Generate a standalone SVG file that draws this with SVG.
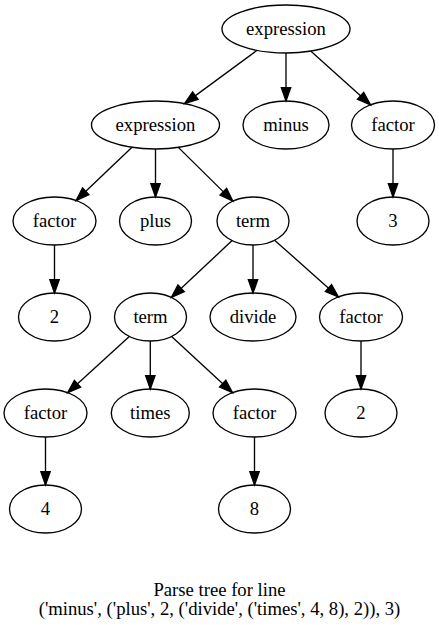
<svg xmlns="http://www.w3.org/2000/svg" width="439" height="629" viewBox="0 0 439 629">
<style>
.n ellipse{fill:none;stroke:#000;stroke-width:1.33}
.e path{fill:none;stroke:#000;stroke-width:1.33;marker-end:url(#arr)}
</style>
<defs>
<marker id="arr" markerUnits="userSpaceOnUse" markerWidth="16" markerHeight="12" refX="13.33" refY="4.67" orient="auto" overflow="visible">
<path d="M0,0 L13.33,4.67 L0,9.33 Z" fill="#000" stroke="#000" stroke-width="1.33"/>
</marker>
</defs>
<rect width="439" height="629" fill="#fff"/>
<g id="edges" class="e">
<path d="M256.9,50.4 L184.6,103.6"/>
<path d="M286,53 L286,101"/>
<path d="M310.7,51.1 L370.5,104.8"/>
<path d="M393,149 L393,197"/>
<path d="M132,147.3 L76.1,200.5"/>
<path d="M155.5,149 L155.5,197"/>
<path d="M178.3,147.4 L232.8,201.1"/>
<path d="M232.1,240.6 L171.4,297.4"/>
<path d="M253,245 L253,293"/>
<path d="M274.6,240.2 L338.4,296.9"/>
<path d="M54.5,245 L54.5,293"/>
<path d="M361,341 L361,389"/>
<path d="M129.3,336.4 L67.7,392.7"/>
<path d="M150.3,341 L150.3,389"/>
<path d="M171.6,336.5 L232.5,392.7"/>
<path d="M45.5,437 L45.5,485"/>
<path d="M254.5,437 L254.5,485"/>
</g>
<g font-family="Liberation Serif, DejaVu Serif, serif" font-size="18.67" text-anchor="middle" fill="#000">
<g id="n_expression_root" class="n"><ellipse cx="286" cy="29" rx="64" ry="24"/><text x="286" y="35">expression</text></g>
<g id="n_expression" class="n"><ellipse cx="155.5" cy="125" rx="64" ry="24"/><text x="155.5" y="131">expression</text></g>
<g id="n_minus" class="n"><ellipse cx="286" cy="125" rx="43" ry="24"/><text x="286" y="131">minus</text></g>
<g id="n_factor_r" class="n"><ellipse cx="393" cy="125" rx="41.5" ry="24"/><text x="393" y="131">factor</text></g>
<g id="n_3" class="n"><ellipse cx="393" cy="221" rx="36" ry="24"/><text x="393" y="227">3</text></g>
<g id="n_factor_l" class="n"><ellipse cx="54.5" cy="221" rx="41.5" ry="24"/><text x="54.5" y="227">factor</text></g>
<g id="n_plus" class="n"><ellipse cx="155.5" cy="221" rx="36" ry="24"/><text x="155.5" y="227">plus</text></g>
<g id="n_term" class="n"><ellipse cx="253" cy="221" rx="36" ry="24"/><text x="253" y="227">term</text></g>
<g id="n_2a" class="n"><ellipse cx="54.5" cy="317" rx="36" ry="24"/><text x="54.5" y="323">2</text></g>
<g id="n_term2" class="n"><ellipse cx="150.5" cy="317" rx="36" ry="24"/><text x="150.5" y="323">term</text></g>
<g id="n_divide" class="n"><ellipse cx="253" cy="317" rx="43" ry="24"/><text x="253" y="323">divide</text></g>
<g id="n_factor_d" class="n"><ellipse cx="361" cy="317" rx="41.5" ry="24"/><text x="361" y="323">factor</text></g>
<g id="n_factor_4" class="n"><ellipse cx="45.5" cy="413" rx="41.5" ry="24"/><text x="45.5" y="419">factor</text></g>
<g id="n_times" class="n"><ellipse cx="150.3" cy="413" rx="39" ry="24"/><text x="150.3" y="419">times</text></g>
<g id="n_factor_8" class="n"><ellipse cx="254.5" cy="413" rx="41.5" ry="24"/><text x="254.5" y="419">factor</text></g>
<g id="n_2b" class="n"><ellipse cx="361" cy="413" rx="36" ry="24"/><text x="361" y="419">2</text></g>
<g id="n_4" class="n"><ellipse cx="45.5" cy="509" rx="36" ry="24"/><text x="45.5" y="515">4</text></g>
<g id="n_8" class="n"><ellipse cx="254.5" cy="509" rx="36" ry="24"/><text x="254.5" y="515">8</text></g>
<g id="title">
<text x="219.5" y="596">Parse tree for line</text>
<text x="219.5" y="615">('minus', ('plus', 2, ('divide', ('times', 4, 8), 2)), 3)</text>
</g>
</g>
</svg>
